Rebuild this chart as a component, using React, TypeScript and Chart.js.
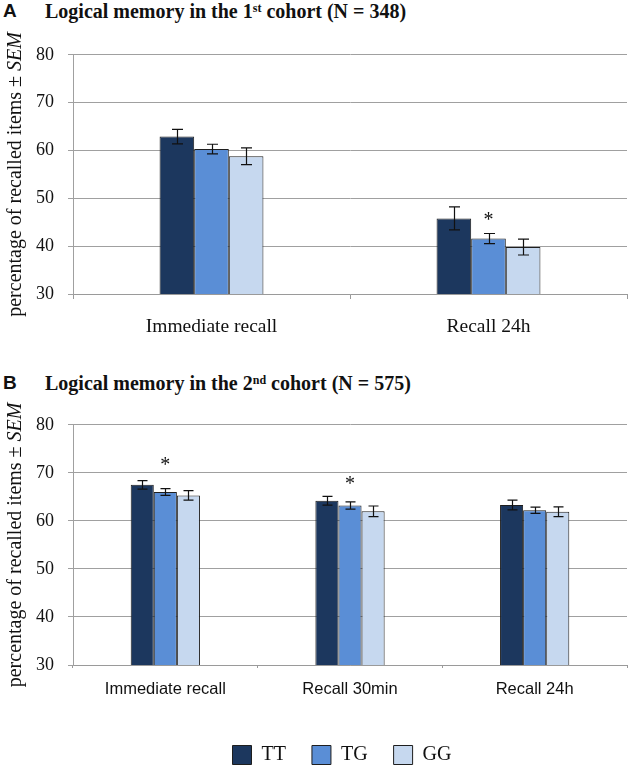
import React, { useEffect, useRef } from "react";
import { Chart, registerables } from "chart.js";
Chart.register(...registerables);

const SERIF = '"Liberation Serif", "Times New Roman", serif';
const SANS = '"Liberation Sans", Arial, sans-serif';

const genotypes = ["TT", "TG", "GG"];
const genotypeColors = ["#1c375e", "#5a8ed6", "#c6d8ef"];

// Panel A — 1st cohort
const categoriesA = ["Immediate recall", "Recall 24h"];
const ttA = [62.9, 45.8];
const tgA = [60.3, 41.6];
const ggA = [58.8, 39.8];
const ttSemA = [1.5, 2.4];
const tgSemA = [1.0, 1.05];
const ggSemA = [1.75, 1.65];
const starA: (number | null)[] = [null, 45.9];

// Panel B — 2nd cohort
const categoriesB = ["Immediate recall", "Recall 30min", "Recall 24h"];
const ttB = [67.5, 64.2, 63.3];
const tgB = [66.0, 63.2, 62.2];
const ggB = [65.3, 62.0, 61.9];
const ttSemB = [0.9, 0.9, 1.0];
const tgSemB = [0.7, 0.75, 0.65];
const ggSemB = [1.0, 1.1, 1.0];
const starB: (number | null)[] = [72.0, 68.2, null];

const yTicks = [30, 40, 50, 60, 70, 80];

const errorBarPlugin = {
  id: "errbars",
  afterDatasetsDraw(chart: any, _args: any, opts: any) {
    const { ctx } = chart;
    const y = chart.scales.y;
    ctx.save();
    ctx.strokeStyle = "#111";
    ctx.lineWidth = 1.2;
    chart.data.datasets.forEach((ds: any, i: number) => {
      const meta = chart.getDatasetMeta(i);
      meta.data.forEach((el: any, j: number) => {
        const v = ds.data[j];
        const s = opts.sems[i][j];
        const x = Math.round(el.x) + 0.5;
        const yt = y.getPixelForValue(v + s);
        const yb = y.getPixelForValue(v - s);
        const c = opts.cap / 2;
        ctx.beginPath();
        ctx.moveTo(x, yt);
        ctx.lineTo(x, yb);
        ctx.moveTo(x - c, yt);
        ctx.lineTo(x + c, yt);
        ctx.moveTo(x - c, yb);
        ctx.lineTo(x + c, yb);
        ctx.stroke();
      });
    });
    // significance asterisks above TG bars
    const meta = chart.getDatasetMeta(1);
    ctx.fillStyle = "#111";
    ctx.font = `20px ${SERIF}`;
    ctx.textAlign = "center";
    ctx.textBaseline = "middle";
    opts.stars.forEach((sv: number | null, j: number) => {
      if (sv == null) return;
      const el = meta.data[j];
      ctx.fillText("*", el.x, y.getPixelForValue(sv) + 3);
    });
    ctx.restore();
  },
};

const yTitlePlugin = {
  id: "ytitle",
  afterDraw(chart: any) {
    const { ctx, chartArea } = chart;
    const cy = (chartArea.top + chartArea.bottom) / 2;
    const p1 = "percentage of recalled items \u00b1 ";
    const p2 = "SEM";
    ctx.save();
    ctx.translate(16, cy);
    ctx.rotate(-Math.PI / 2);
    ctx.fillStyle = "#111";
    ctx.textBaseline = "middle";
    ctx.textAlign = "left";
    ctx.font = `20px ${SERIF}`;
    const w1 = ctx.measureText(p1).width;
    ctx.font = `italic 20px ${SERIF}`;
    const w2 = ctx.measureText(p2).width;
    const x0 = -(w1 + w2) / 2;
    ctx.font = `20px ${SERIF}`;
    ctx.fillText(p1, x0, 0);
    ctx.font = `italic 20px ${SERIF}`;
    ctx.fillText(p2, x0 + w1, 0);
    ctx.restore();
  },
};

// nudges the legend row so it sits where the reference has it
const legendShiftPlugin = {
  id: "legendShift",
  afterLayout(chart: any, _a: any, opts: any) {
    const lg = chart.legend;
    if (lg && opts && opts.dx) {
      lg.left += opts.dx;
      lg.right += opts.dx;
    }
  },
};

function makeConfig(p: any) {
  return {
    type: "bar",
    data: {
      labels: p.categories,
      datasets: p.series.map((d: number[], i: number) => ({
        label: genotypes[i],
        data: d,
        backgroundColor: genotypeColors[i],
        borderColor: "#1e1e1e",
        borderWidth: 1,
        categoryPercentage: 0.375,
        barPercentage: 1,
      })),
    },
    plugins: [errorBarPlugin, yTitlePlugin, legendShiftPlugin],
    options: {
      responsive: false,
      animation: false,
      devicePixelRatio: 1,
      layout: { padding: { top: p.padTop, right: 3, left: 0, bottom: 0 } },
      plugins: {
        tooltip: { enabled: false },
        legend: p.legend
          ? {
              display: true,
              position: "bottom",
              fullSize: false,
              labels: {
                boxWidth: 19,
                boxHeight: 19,
                padding: 26,
                color: "#111",
                font: { family: SERIF, size: 20 },
              },
            }
          : { display: false },
        legendShift: { dx: p.legend ? -8 : 0 },
        errbars: { sems: p.sems, stars: p.stars, cap: p.cap },
      },
      scales: {
        x: {
          grid: {
            display: true,
            drawOnChartArea: false,
            drawTicks: true,
            tickLength: p.xTick,
            color: "#9a9a9a",
            offset: true,
          },
          border: { display: true, color: "#9a9a9a" },
          ticks: {
            font: p.xFont,
            color: "#111",
            padding: p.xPad,
            maxRotation: 0,
            autoSkip: false,
          },
          afterFit: (s: any) => {
            s.height = p.xHeight;
          },
        },
        y: {
          min: 30,
          max: 80,
          afterBuildTicks: (s: any) => {
            s.ticks = yTicks.map((v) => ({ value: v }));
          },
          ticks: {
            font: { family: SERIF, size: 18 },
            color: "#111",
            padding: 14,
          },
          grid: { color: "#a0a0a0", tickLength: 5, drawTicks: true },
          border: { display: true, color: "#a0a0a0" },
          afterFit: (s: any) => {
            s.width = 73;
          },
        },
      },
    },
  };
}

function Panel({ cfg, top, width, height }: any) {
  const ref = useRef<HTMLCanvasElement>(null);
  useEffect(() => {
    const chart = new Chart(ref.current as HTMLCanvasElement, cfg as any);
    return () => chart.destroy();
  }, []);
  return (
    <canvas
      ref={ref}
      width={width}
      height={height}
      style={{ position: "absolute", left: 0, top, width, height }}
    />
  );
}

const cfgA = makeConfig({
  categories: categoriesA,
  series: [ttA, tgA, ggA],
  sems: [ttSemA, tgSemA, ggSemA],
  stars: starA,
  cap: 11,
  padTop: 22,
  xTick: 5,
  xPad: 16,
  xHeight: 48,
  xFont: { family: SERIF, size: 19.5 },
  legend: false,
});

const cfgB = makeConfig({
  categories: categoriesB,
  series: [ttB, tgB, ggB],
  sems: [ttSemB, tgSemB, ggSemB],
  stars: starB,
  cap: 10,
  padTop: 24,
  xTick: 3,
  xPad: 12,
  xHeight: 54,
  xFont: { family: SANS, size: 16.5 },
  legend: true,
});

const letterStyle: React.CSSProperties = {
  position: "absolute",
  left: 3,
  fontFamily: SANS,
  fontWeight: "bold",
  fontSize: 19,
  lineHeight: "20px",
  color: "#111",
};
const titleStyle: React.CSSProperties = {
  position: "absolute",
  left: 45,
  fontFamily: SERIF,
  fontWeight: "bold",
  fontSize: 20,
  lineHeight: "20px",
  color: "#111",
  whiteSpace: "nowrap",
};
const supStyle: React.CSSProperties = { fontSize: 12, verticalAlign: "6px", lineHeight: 0 };

export default function App() {
  return (
    <div
      style={{
        position: "absolute",
        left: 0,
        top: 0,
        width: 630,
        height: 766,
        overflow: "hidden",
        background: "#fff",
      }}
    >
      <div style={{ ...letterStyle, top: 1 }}>A</div>
      <div style={{ ...titleStyle, top: 1 }}>
        Logical memory in the 1<span style={supStyle}>st</span> cohort (N = 348)
      </div>
      <Panel cfg={cfgA} top={30} width={630} height={312} />
      <div style={{ ...letterStyle, top: 373 }}>B</div>
      <div style={{ ...titleStyle, top: 373 }}>
        Logical memory in the 2<span style={supStyle}>nd</span> cohort (N = 575)
      </div>
      <Panel cfg={cfgB} top={400} width={630} height={375} />
    </div>
  );
}
